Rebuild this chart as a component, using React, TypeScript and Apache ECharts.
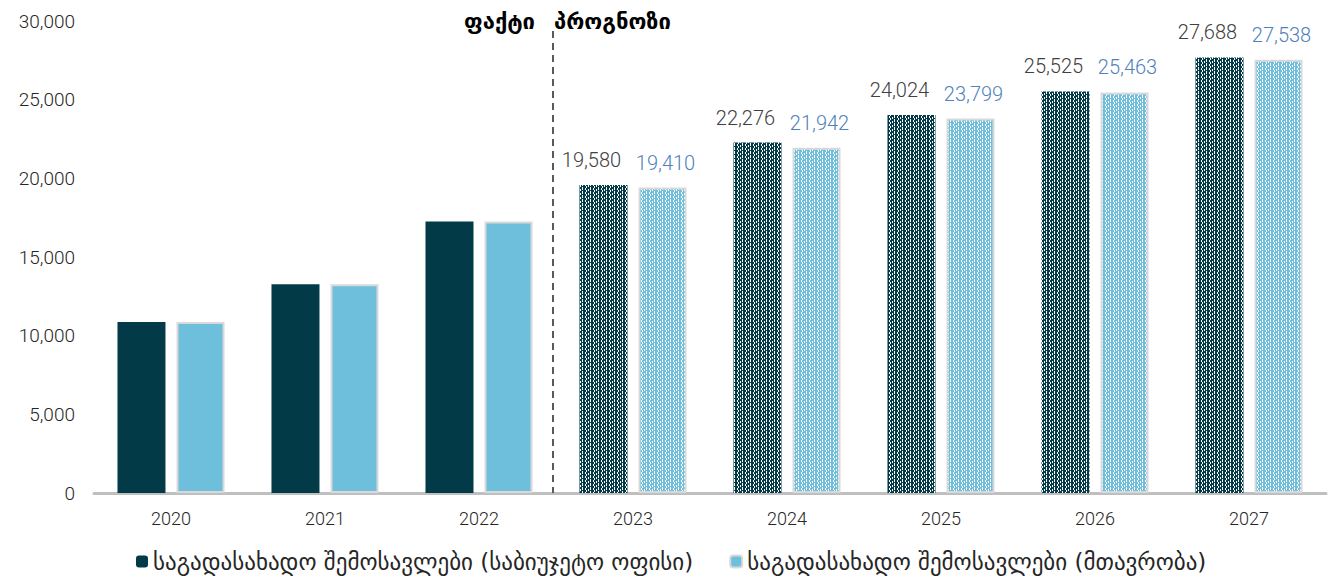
import React, { useEffect, useRef } from 'react';
import * as echarts from 'echarts';

const years = ['2020', '2021', '2022', '2023', '2024', '2025', '2026', '2027'];
const budgetOffice = [10870, 13270, 17250, 19580, 22276, 24024, 25525, 27688];
const government = [10870, 13270, 17250, 19410, 21942, 23799, 25463, 27538];
const forecastStart = 3;
const seriesNames = [
  'საგადასახადო შემოსავლები (საბიუჯეტო ოფისი)',
  'საგადასახადო შემოსავლები (მთავრობა)',
];
const factLabel = 'ფაქტი';
const forecastLabel = 'პროგნოზი';
const yMin = 0;
const yMax = 30000;
const yInterval = 5000;

const DARK = '#023a48';
const LIGHT = '#6dbfdc';
const NUM_FONT = 'Roboto, "DejaVu Sans", sans-serif';
const GEO_FONT = '"DejaVu Sans", sans-serif';

function makePattern(bg: string, fg: string) {
  const c = document.createElement('canvas');
  c.width = 8;
  c.height = 4;
  const ctx = c.getContext('2d')!;
  ctx.fillStyle = bg;
  ctx.fillRect(0, 0, 8, 4);
  ctx.fillStyle = fg;
  ctx.fillRect(1, 0, 1, 2);
  ctx.fillRect(2, 2, 1, 2);
  ctx.fillRect(4, 1, 1, 2);
  ctx.fillRect(6, 0, 1, 2);
  ctx.fillRect(6, 3, 1, 1);
  return { image: c, repeat: 'repeat', imageWidth: 8, imageHeight: 4 } as any;
}

const fmt = (v: number) => v.toLocaleString('en-US');

export default function App() {
  const ref = useRef<HTMLDivElement>(null);
  useEffect(() => {
    document.body.style.margin = '0';
    const chart = echarts.init(ref.current!, null, { renderer: 'svg' });
    const darkPat = makePattern(DARK, '#ffffff');
    const lightPat = makePattern(LIGHT, '#ffffff');
    const build = (vals: number[], base: string, pat: any) =>
      vals.map((v, i) =>
        i >= forecastStart
          ? { value: v, itemStyle: { color: pat }, label: { show: true } }
          : { value: v, itemStyle: { color: base } }
      );
    const labelBase = {
      show: false,
      position: 'top',
      distance: 15,
      fontSize: 20,
      fontWeight: 300,
      fontFamily: NUM_FONT,
      formatter: (p: any) => fmt(p.value),
    };
    chart.setOption({
      animation: false,
      grid: { left: 94, right: 7, top: 21, bottom: 86 },
      legend: {
        bottom: 1,
        left: 131,
        itemWidth: 12,
        itemHeight: 12,
        itemGap: 36,
        textStyle: { fontFamily: GEO_FONT, fontSize: 23, color: '#262626' },
        data: seriesNames,
      },
      xAxis: {
        type: 'category',
        data: years,
        axisLine: { lineStyle: { color: '#bfbfbf', width: 3 } },
        axisTick: { show: false },
        axisLabel: { color: '#262626', fontSize: 18, fontWeight: 300, fontFamily: NUM_FONT, margin: 16 },
      },
      yAxis: {
        type: 'value',
        min: yMin,
        max: yMax,
        interval: yInterval,
        splitLine: { show: false },
        axisLine: { show: false },
        axisTick: { show: false },
        axisLabel: {
          color: '#262626',
          fontSize: 19,
          fontWeight: 300,
          fontFamily: NUM_FONT,
          margin: 19,
          formatter: (v: number) => fmt(v),
        },
      },
      series: [
        {
          name: seriesNames[0],
          type: 'bar',
          barWidth: 48,
          barGap: '23%',
          itemStyle: { color: DARK },
          label: { ...labelBase, color: '#404040', offset: [-12, 0] },
          data: build(budgetOffice, DARK, darkPat),
        },
        {
          name: seriesNames[1],
          type: 'bar',
          barWidth: 48,
          itemStyle: { color: LIGHT, borderColor: '#d9d9d9', borderWidth: 2 },
          label: { ...labelBase, color: '#4f81bd', offset: [3, 0] },
          data: build(government, LIGHT, lightPat),
        },
      ],
    });
    const x1 = chart.convertToPixel({ xAxisIndex: 0 }, years[forecastStart - 1]) as number;
    const x2 = chart.convertToPixel({ xAxisIndex: 0 }, years[forecastStart]) as number;
    const lineX = (x1 + x2) / 2 - 3;
    const y0 = chart.convertToPixel({ yAxisIndex: 0 }, 0) as number;
    chart.setOption({
      graphic: [
        {
          type: 'line',
          shape: { x1: lineX, y1: 31, x2: lineX, y2: y0 },
          style: { stroke: '#595959', lineWidth: 2, lineDash: [7, 5] },
          z: 10,
        },
        {
          type: 'text',
          x: lineX - 18,
          y: 21,
          style: {
            text: factLabel,
            align: 'right',
            verticalAlign: 'middle',
            font: `bold 22px ${GEO_FONT}`,
            fill: '#000000',
          },
        },
        {
          type: 'text',
          x: lineX + 1,
          y: 21,
          style: {
            text: forecastLabel,
            align: 'left',
            verticalAlign: 'middle',
            font: `bold 22px ${GEO_FONT}`,
            fill: '#000000',
          },
        },
      ],
    });
    return () => chart.dispose();
  }, []);
  return <div ref={ref} style={{ width: 1333, height: 579 }} />;
}
